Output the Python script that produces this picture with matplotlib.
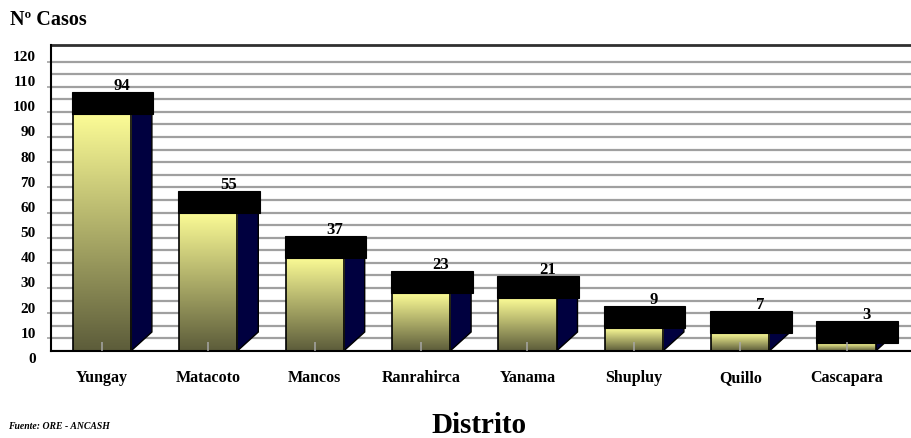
import numpy as np
import matplotlib
matplotlib.use("Agg")
import matplotlib.pyplot as plt
from matplotlib.patches import Rectangle, Polygon
from matplotlib.transforms import ScaledTranslation

plt.rcParams['font.family'] = ['Liberation Serif', 'DejaVu Serif']
plt.rcParams['font.weight'] = 'bold'

# ---- data ----
categories = ["Yungay", "Matacoto", "Mancos", "Ranrahirca", "Yanama",
              "Shupluy", "Quillo", "Cascapara"]
cases = [94, 55, 37, 23, 21, 9, 7, 3]
ytick_values = list(range(0, 121, 10))
ytick_labels = [str(v) for v in ytick_values]

# ---- figure / axes geometry ----
W, H = 911, 439
fig = plt.figure(figsize=(W / 100, H / 100), dpi=100)
ax_left_px, ax_right_px, ax_top_px, ax_bot_px = 51, 911, 46, 352
ax = fig.add_axes([ax_left_px / W, (H - ax_bot_px) / H,
                   (ax_right_px - ax_left_px) / W, (ax_bot_px - ax_top_px) / H])

px_per_cat = 106.4
first_center_px = 101.8
px_per_unit = 2.517
PX_X = 1 / px_per_cat
PX_Y = 1 / px_per_unit

xlim = ((ax_left_px - first_center_px) * PX_X, (ax_right_px - first_center_px) * PX_X)
ylim = (0, (ax_bot_px - ax_top_px) * PX_Y)

half_w = 29.1 * PX_X
depth_x = 21 * PX_X
depth_y = 19 * PX_Y
cap_h = 22 * PX_Y

top_col = np.array([252, 252, 150]) / 255
bot_col = np.array([92, 92, 58]) / 255
t = np.linspace(0, 1, 256)[:, None]
grad = (top_col[None, :] * (1 - t) + bot_col[None, :] * t)[:, None, :]

x = np.arange(len(categories))
for i, v in zip(x, cases):
    l, r = i - half_w, i + half_w
    # side face
    ax.add_patch(Polygon([(r, 0), (r + depth_x, depth_y), (r + depth_x, v + depth_y), (r, v)],
                         closed=True, facecolor='#00003f', edgecolor='black', lw=1, zorder=3))
    # front face gradient
    ax.imshow(grad, extent=[l, r, 0, v], aspect='auto', zorder=3.1, interpolation='bilinear')
    ax.add_patch(Rectangle((l, 0), r - l, v, fill=False, edgecolor='black', lw=1.2, zorder=3.2))
    # black cap
    ax.add_patch(Rectangle((l - 1 * PX_X, v), (r - l) + depth_x + 2.5 * PX_X, cap_h,
                           facecolor='black', edgecolor='black', lw=0.8, zorder=5))
    ax.annotate(str(v), (i, v), xytext=(20, 29), textcoords='offset pixels',
                ha='center', va='center', fontsize=12, fontweight='bold', zorder=4)

ax.set_xlim(*xlim)
ax.set_ylim(*ylim)

# gridlines
ax.hlines(np.arange(0, 120, 5), xlim[0], xlim[1], colors='#a0a0a0', lw=1.6, zorder=0.5)

ax.set_axisbelow(False)
ax.xaxis.set_zorder(10)

ax.set_xticks(x)
ax.set_xticklabels(categories, fontsize=11.5, fontweight='bold')
ax.tick_params(axis='x', direction='in', length=9 * 0.72, width=1.5 * 0.72,
               color='#a8a8a8', pad=13)

ax.set_yticks(ytick_values)
ax.set_yticklabels(ytick_labels, fontsize=11, fontweight='bold')
ax.set_yticks(np.arange(0, 120, 5), minor=True)
ax.tick_params(axis='y', which='major', length=0, pad=11)
ax.tick_params(axis='y', which='minor', length=4 * 0.72, width=1.6 * 0.72, color='#a0a0a0')
offset = ScaledTranslation(0, -6 / 100, fig.dpi_scale_trans)
for lab in ax.get_yticklabels():
    lab.set_transform(lab.get_transform() + offset)

for s in ['left', 'bottom']:
    ax.spines[s].set_color('black')
    ax.spines[s].set_linewidth(1.5)
    ax.spines[s].set_zorder(6)
ax.spines['top'].set_color('#303030')
ax.spines['top'].set_linewidth(2)
ax.spines['right'].set_visible(False)

fig.text(10 / W, 1 - 20 / H, 'Nº Casos', fontsize=14.5, fontweight='bold', va='center', ha='left')
fig.text(479 / W, 1 - 426 / H, 'Distrito', fontsize=21, fontweight='bold', va='center', ha='center')
fig.text(8 / W, 1 - 427 / H, 'Fuente: ORE - ANCASH', fontsize=7, fontweight='bold',
         fontstyle='italic', va='center', ha='left')

fig.savefig('out.png', dpi=100)
